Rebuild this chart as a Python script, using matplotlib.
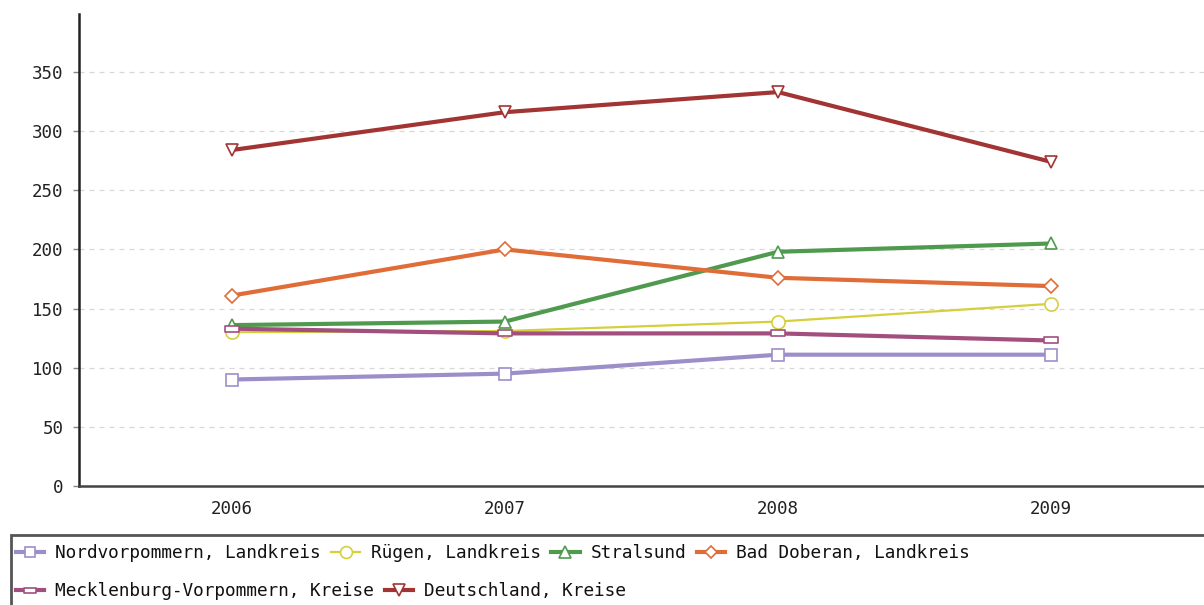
import matplotlib
matplotlib.use("Agg")
import matplotlib.pyplot as plt
from matplotlib.path import Path
from matplotlib.patches import Rectangle

years = [2006, 2007, 2008, 2009]
nordvorpommern = [90, 95, 111, 111]
ruegen = [130, 131, 139, 154]
stralsund = [136, 139, 198, 205]
bad_doberan = [161, 200, 176, 169]
mecklenburg = [133, 129, 129, 123]
deutschland = [284, 316, 333, 274]

labels = ["Nordvorpommern, Landkreis", "Rügen, Landkreis", "Stralsund",
          "Bad Doberan, Landkreis", "Mecklenburg-Vorpommern, Kreise",
          "Deutschland, Kreise"]
yticks = [0, 50, 100, 150, 200, 250, 300, 350]

plt.rcParams['font.family'] = ['DejaVu Sans Mono', 'DejaVu Sans']

flat_rect = Path([(-1, -0.4), (1, -0.4), (1, 0.4), (-1, 0.4), (-1, -0.4)],
                 [Path.MOVETO, Path.LINETO, Path.LINETO, Path.LINETO, Path.CLOSEPOLY])

series = [
    (nordvorpommern, '#9c8fc9', 's', 3.0, 8.5),
    (ruegen, '#d6cf3c', 'o', 1.6, 9.5),
    (stralsund, '#4f9a4f', '^', 3.0, 9),
    (bad_doberan, '#e06c37', 'D', 3.0, 7),
    (mecklenburg, '#a24f7e', flat_rect, 3.0, 10),
    (deutschland, '#a23434', 'v', 3.0, 9),
]

fig = plt.figure(figsize=(12.04, 6.05), dpi=100)
ax = fig.add_axes([79/1204, 1 - 486/605, 1 - 79/1204, (486 - 14)/605])

handles = []
for vals, color, marker, lw, ms in series:
    h, = ax.plot(years, vals, color=color, lw=lw, marker=marker, ms=ms,
                 mfc='white', mec=color, mew=1.2, zorder=3)
    handles.append(h)

ax.set_xlim(2005.44, 2009.56)
ax.set_ylim(0, 399)
ax.set_xticks(years)
ax.set_xticklabels([str(y) for y in years])
ax.set_yticks(yticks)
ax.tick_params(axis='x', length=0, pad=10, labelsize=12.6, labelcolor='#222222')
ax.tick_params(axis='y', length=4, width=1, color='#888888', pad=7, labelsize=12.6,
               labelcolor='#222222')
ax.grid(axis='y', color='#d8d8d8', linestyle=(0, (4, 4)), lw=0.9)
ax.set_axisbelow(True)
for s in ['top', 'right']:
    ax.spines[s].set_visible(False)
ax.spines['left'].set_linewidth(1.8)
ax.spines['bottom'].set_linewidth(1.8)
ax.spines['left'].set_color('#222222')
ax.spines['bottom'].set_color('#444444')

# legend frame
fig.patches.append(Rectangle((11/1204, -0.01), 1.0, 1 - 535/605 + 0.01,
                             transform=fig.transFigure, fill=False,
                             edgecolor='#555555', lw=2.0, zorder=1))

common = dict(frameon=False, prop={'size': 12.8}, handlelength=1.6, handletextpad=0.6,
              columnspacing=0.6, borderpad=0, borderaxespad=0, loc='center left',
              markerscale=0.9, labelcolor='#111111')
leg1 = fig.legend(handles[:4], labels[:4], ncol=4,
                  bbox_to_anchor=(16/1204, 1 - 553/605), **common)
leg2 = fig.legend(handles[4:], labels[4:], ncol=2,
                  bbox_to_anchor=(16/1204, 1 - 591/605), **common)

fig.savefig('out.png', dpi=100)
